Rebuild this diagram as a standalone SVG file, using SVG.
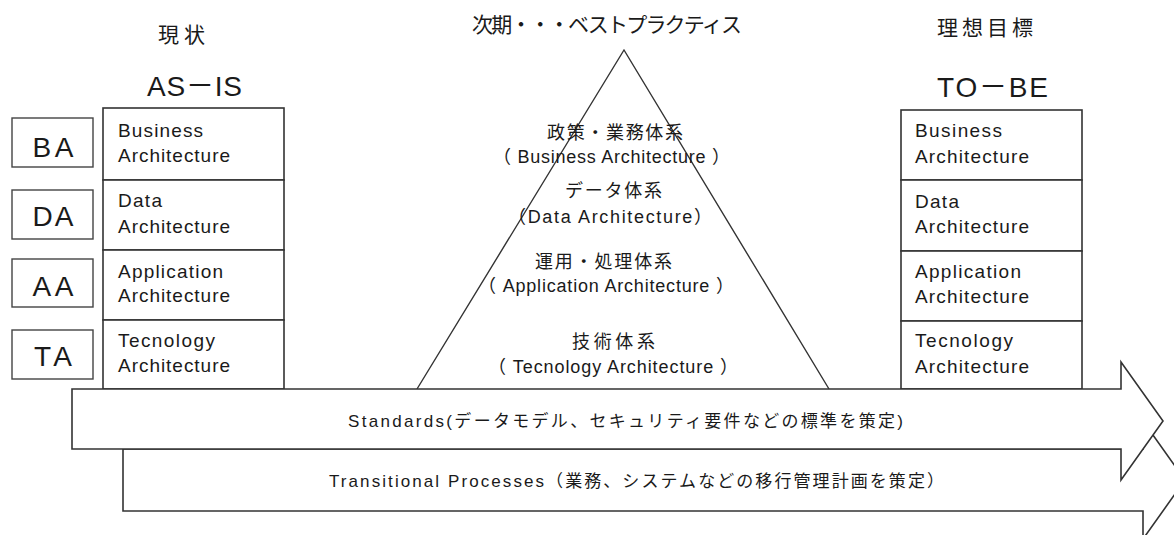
<svg xmlns="http://www.w3.org/2000/svg" width="1174" height="535" viewBox="0 0 1174 535">
<style>
text{font-family:"Liberation Sans","Noto Sans CJK JP",sans-serif;fill:#1a1a1a}
.box{fill:#fff;stroke:#333;stroke-width:1.6}
.lbl{fill:#fff;stroke:#444;stroke-width:1.4}
.bt{font-size:19px}
.tag{font-size:28px;text-anchor:middle}
.hd{font-size:21px}
.big{font-size:28px}
.py{font-size:18px}
.pj{font-size:18px}
.ar{fill:#fff;stroke:#333;stroke-width:1.6;stroke-linejoin:miter}
.at{font-size:17px}
.tri{fill:none;stroke:#333;stroke-width:1.4}
</style>
<rect width="1174" height="535" fill="#fff"/>

<g id="titles">
<text class="hd" x="158" y="42" textLength="47" lengthAdjust="spacing">現状</text>
<text class="big" x="147" y="96" textLength="95" lengthAdjust="spacing">AS－IS</text>
<text class="hd" x="472" y="32" textLength="270" lengthAdjust="spacing">次期・・・ベストプラクティス</text>
<text class="hd" x="937" y="35" textLength="96" lengthAdjust="spacing">理想目標</text>
<text class="big" x="937" y="97" textLength="111" lengthAdjust="spacing">TO－BE</text>
</g>

<g id="tag-BA"><rect class="lbl" x="12" y="118" width="81" height="49"/><text class="tag" x="53" y="157" textLength="41" lengthAdjust="spacing">BA</text></g>
<g id="tag-DA"><rect class="lbl" x="12" y="190" width="81" height="49"/><text class="tag" x="53" y="226" textLength="41" lengthAdjust="spacing">DA</text></g>
<g id="tag-AA"><rect class="lbl" x="12" y="259" width="81" height="48"/><text class="tag" x="53" y="296" textLength="41" lengthAdjust="spacing">AA</text></g>
<g id="tag-TA"><rect class="lbl" x="12" y="330" width="81" height="49"/><text class="tag" x="53" y="366" textLength="38" lengthAdjust="spacing">TA</text></g>

<g id="asis-BA"><rect class="box" x="103" y="108" width="181" height="72"/>
<text class="bt" x="118" y="137" textLength="85" lengthAdjust="spacing">Business</text>
<text class="bt" x="118" y="162" textLength="112" lengthAdjust="spacing">Architecture</text></g>
<g id="asis-DA"><rect class="box" x="103" y="180" width="181" height="70"/>
<text class="bt" x="118" y="207" textLength="44" lengthAdjust="spacing">Data</text>
<text class="bt" x="118" y="233" textLength="112" lengthAdjust="spacing">Architecture</text></g>
<g id="asis-AA"><rect class="box" x="103" y="250" width="181" height="70"/>
<text class="bt" x="118" y="278" textLength="105" lengthAdjust="spacing">Application</text>
<text class="bt" x="118" y="302" textLength="112" lengthAdjust="spacing">Architecture</text></g>
<g id="asis-TA"><rect class="box" x="103" y="320" width="181" height="69"/>
<text class="bt" x="118" y="347" textLength="97" lengthAdjust="spacing">Tecnology</text>
<text class="bt" x="118" y="372" textLength="112" lengthAdjust="spacing">Architecture</text></g>

<g id="tobe-BA"><rect class="box" x="901" y="110" width="181" height="70"/>
<text class="bt" x="915" y="137" textLength="87" lengthAdjust="spacing">Business</text>
<text class="bt" x="915" y="163" textLength="114" lengthAdjust="spacing">Architecture</text></g>
<g id="tobe-DA"><rect class="box" x="901" y="180" width="181" height="71"/>
<text class="bt" x="915" y="208" textLength="44" lengthAdjust="spacing">Data</text>
<text class="bt" x="915" y="233" textLength="114" lengthAdjust="spacing">Architecture</text></g>
<g id="tobe-AA"><rect class="box" x="901" y="251" width="181" height="70"/>
<text class="bt" x="915" y="278" textLength="106" lengthAdjust="spacing">Application</text>
<text class="bt" x="915" y="303" textLength="114" lengthAdjust="spacing">Architecture</text></g>
<g id="tobe-TA"><rect class="box" x="901" y="321" width="181" height="68"/>
<text class="bt" x="915" y="347" textLength="98" lengthAdjust="spacing">Tecnology</text>
<text class="bt" x="915" y="373" textLength="114" lengthAdjust="spacing">Architecture</text></g>

<g id="pyramid">
<polyline class="tri" points="417,389 624,50 829,389"/>
<text class="pj" x="547" y="139" textLength="136" lengthAdjust="spacing">政策・業務体系</text>
<text class="py" x="493" y="163" textLength="237" lengthAdjust="spacing">（ Business Architecture ）</text>
<text class="pj" x="565" y="197" textLength="97" lengthAdjust="spacing">データ体系</text>
<text class="py" x="508" y="223" textLength="204" lengthAdjust="spacing">（Data Architecture）</text>
<text class="pj" x="535" y="268" textLength="137" lengthAdjust="spacing">運用・処理体系</text>
<text class="py" x="478" y="292" textLength="256" lengthAdjust="spacing">（ Application Architecture ）</text>
<text class="pj" x="572" y="348" textLength="83" lengthAdjust="spacing">技術体系</text>
<text class="py" x="488" y="373" textLength="250" lengthAdjust="spacing">（ Tecnology Architecture ）</text>
</g>

<g id="connectors">
<g id="arrow-transitional">
<polygon class="ar" points="123,449 1143,449 1143,421 1185,480 1143,539 1143,511 123,511"/>
<text class="at" x="329" y="487" textLength="615" lengthAdjust="spacing">Transitional Processes（業務、システムなどの移行管理計画を策定）</text>
</g>
<g id="arrow-standards">
<polygon class="ar" points="72,389 1121,389 1121,362 1163,421 1121,480 1121,449 72,449"/>
<text class="at" x="348" y="427" textLength="555" lengthAdjust="spacing">Standards(データモデル、セキュリティ要件などの標準を策定)</text>
</g>
</g>
</svg>
